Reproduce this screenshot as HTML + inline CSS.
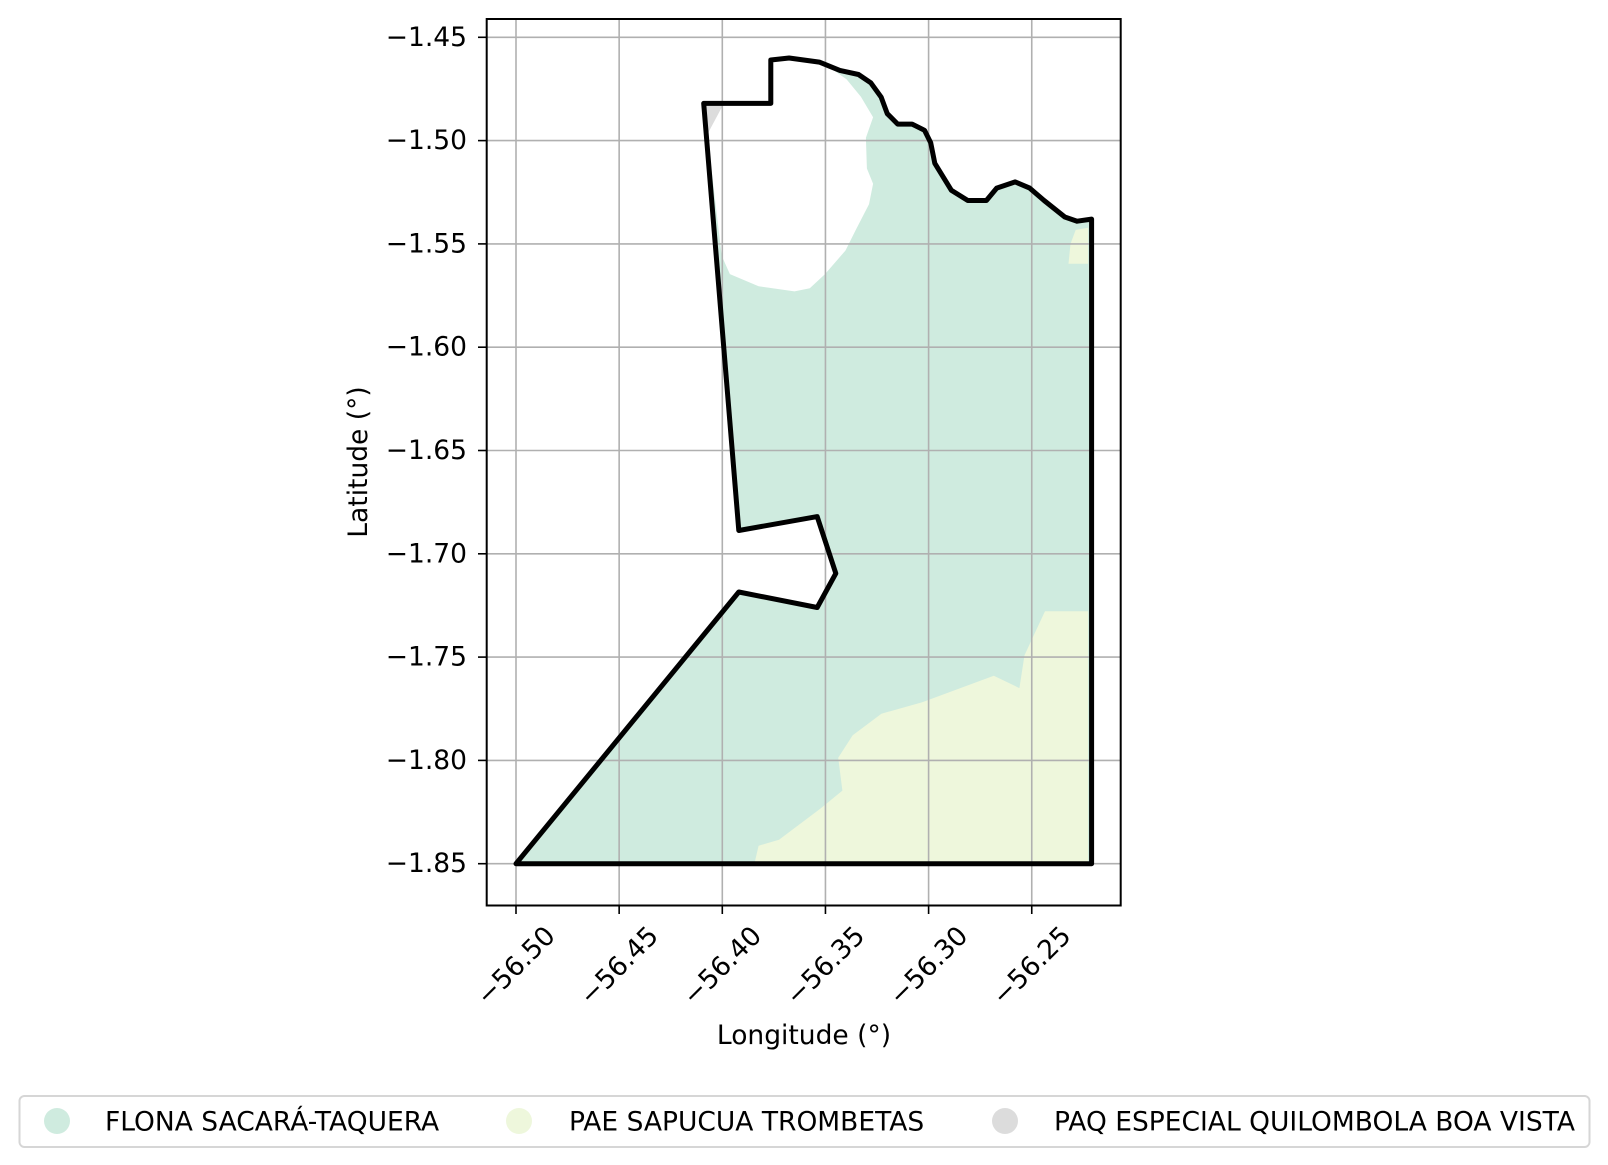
<!DOCTYPE html>
<html><head><meta charset="utf-8"><style>
html,body{margin:0;padding:0;background:#fff;}
svg{display:block;font-family:"DejaVu Sans","Liberation Sans",sans-serif;}
</style></head><body>
<svg id="chart" width="1608" height="1165" viewBox="0 0 1608 1165" xmlns="http://www.w3.org/2000/svg">
<g id="fills"></g>
<g id="grid"></g>
<g id="boundary-g"></g>
<rect x="486.7" y="19" width="634" height="886.5" fill="none" stroke="#000" stroke-width="2"/>
<g id="ticks"></g>
<text x="804" y="1044" font-size="26.5" text-anchor="middle">Longitude (°)</text>
<text x="0" y="0" font-size="26.5" text-anchor="middle" transform="translate(367,462) rotate(-90)">Latitude (°)</text>
<g>
<rect x="19.5" y="1096" width="1570" height="51" rx="5" fill="#fff" stroke="#d6d6d6" stroke-width="2"/>
<circle cx="57" cy="1121" r="13" fill="#cfebdf"/>
<text x="105" y="1130.5" font-size="26.5">FLONA SACARÁ-TAQUERA</text>
<circle cx="519" cy="1121" r="13" fill="#eef7dc"/>
<text x="569" y="1130.5" font-size="26.5">PAE SAPUCUA TROMBETAS</text>
<circle cx="1005" cy="1121" r="13" fill="#dcdcdc"/>
<text x="1054" y="1130.5" font-size="26.5">PAQ ESPECIAL QUILOMBOLA BOA VISTA</text>
</g>
</svg>
<script>
const xTicks = [-56.50,-56.45,-56.40,-56.35,-56.30,-56.25];
const xTickLabels = ["−56.50","−56.45","−56.40","−56.35","−56.30","−56.25"];
const yTicks = [-1.45,-1.50,-1.55,-1.60,-1.65,-1.70,-1.75,-1.80,-1.85];
const yTickLabels = ["−1.45","−1.50","−1.55","−1.60","−1.65","−1.70","−1.75","−1.80","−1.85"];
const boundaryLon = [-56.409,-56.3765,-56.3765,-56.3676,-56.353,-56.343,-56.334,-56.328,-56.323,-56.320,-56.315,-56.308,-56.302,-56.299,-56.297,-56.289,-56.281,-56.272,-56.267,-56.258,-56.251,-56.244,-56.234,-56.228,-56.221,-56.221,-56.5,-56.392,-56.354,-56.345,-56.354,-56.392];
const boundaryLat = [-1.482,-1.482,-1.461,-1.460,-1.462,-1.466,-1.468,-1.472,-1.479,-1.487,-1.492,-1.492,-1.495,-1.501,-1.511,-1.524,-1.529,-1.529,-1.523,-1.520,-1.523,-1.529,-1.537,-1.539,-1.538,-1.85,-1.85,-1.7185,-1.726,-1.7095,-1.682,-1.6887];
const gapLon = [-56.409,-56.4003,-56.3963,-56.3824,-56.365,-56.3576,-56.3502,-56.3403,-56.3353,-56.3289,-56.3269,-56.3299,-56.3304,-56.3269,-56.3328,-56.3398,-56.3453,-56.3453,-56.409];
const gapLat = [-1.482,-1.5557,-1.5646,-1.5705,-1.573,-1.5715,-1.5646,-1.5532,-1.5432,-1.5308,-1.5209,-1.5135,-1.4986,-1.4887,-1.4788,-1.4703,-1.4664,-1.452,-1.452];
const paeLon = [-56.3844,-56.3824,-56.3725,-56.3527,-56.3418,-56.3438,-56.3368,-56.3229,-56.3031,-56.2684,-56.256,-56.2535,-56.2436,-56.2227,-56.2227];
const paeLat = [-1.8498,-1.8413,-1.8384,-1.8235,-1.8146,-1.7987,-1.7878,-1.7774,-1.7719,-1.759,-1.765,-1.7491,-1.7278,-1.7278,-1.8498];
const pae2Lon = [-56.2287,-56.2227,-56.2227,-56.2322,-56.2312];
const pae2Lat = [-1.5432,-1.5422,-1.5596,-1.5596,-1.5500];
const paqLon = [-56.4093,-56.3993,-56.4073];
const paqLat = [-1.4822,-1.4822,-1.4971];

const NS="http://www.w3.org/2000/svg";
function X(lon){return 516 + (lon+56.5)/0.05*103.15;}
function Y(lat){return 37.3 + (-1.45-lat)/0.05*103.3;}
function pts(lo,la){return lo.map((v,i)=>X(v).toFixed(1)+","+Y(la[i]).toFixed(1)).join(" ");}
function mk(tag,parent,attrs){const e=document.createElementNS(NS,tag);for(const k in attrs)e.setAttribute(k,attrs[k]);parent.appendChild(e);return e;}
const fills=document.getElementById('fills');
let p=mk('polygon',fills,{points:pts(boundaryLon,boundaryLat),fill:'#cfebdf'});


p=mk('polygon',fills,{points:pts(gapLon,gapLat),fill:'#fff'});


p=mk('polygon',fills,{points:pts(paqLon,paqLat),fill:'#dcdcdc'});


p=mk('polygon',fills,{points:pts(paeLon,paeLat),fill:'#eef7dc'});


p=mk('polygon',fills,{points:pts(pae2Lon,pae2Lat),fill:'#eef7dc'});



const grid=document.getElementById('grid'), ticks=document.getElementById('ticks');
xTicks.forEach((v,i)=>{
  const x=X(v);
  let l=mk('line',grid,{x1:x,x2:x,y1:19,y2:905.5,stroke:'#b0b0b0','stroke-width':1.6});
  
  
  let t=mk('line',ticks,{x1:x,x2:x,y1:905.5,y2:914,stroke:'#000','stroke-width':1.6});
  
  
  let tx=mk('text',ticks,{x:0,y:0,'font-size':26.5,'text-anchor':'middle','dominant-baseline':'central',transform:`translate(${x},966) rotate(-45)`});
  tx.textContent=xTickLabels[i];
  
  
});
yTicks.forEach((v,i)=>{
  const y=Y(v);
  let l=mk('line',grid,{x1:486.7,x2:1120.7,y1:y,y2:y,stroke:'#b0b0b0','stroke-width':1.6});
  
  
  let t=mk('line',ticks,{x1:478,x2:486.7,y1:y,y2:y,stroke:'#000','stroke-width':1.6});
  
  
  let tx=mk('text',ticks,{x:467,y:y,'font-size':26.5,'text-anchor':'end','dominant-baseline':'central'});
  tx.textContent=yTickLabels[i];
  
  
});
const bg=document.getElementById('boundary-g');
let b=mk('polygon',bg,{points:pts(boundaryLon,boundaryLat),fill:'none',stroke:'#000','stroke-width':5,'stroke-linejoin':'round'});


</script>
</body></html>
